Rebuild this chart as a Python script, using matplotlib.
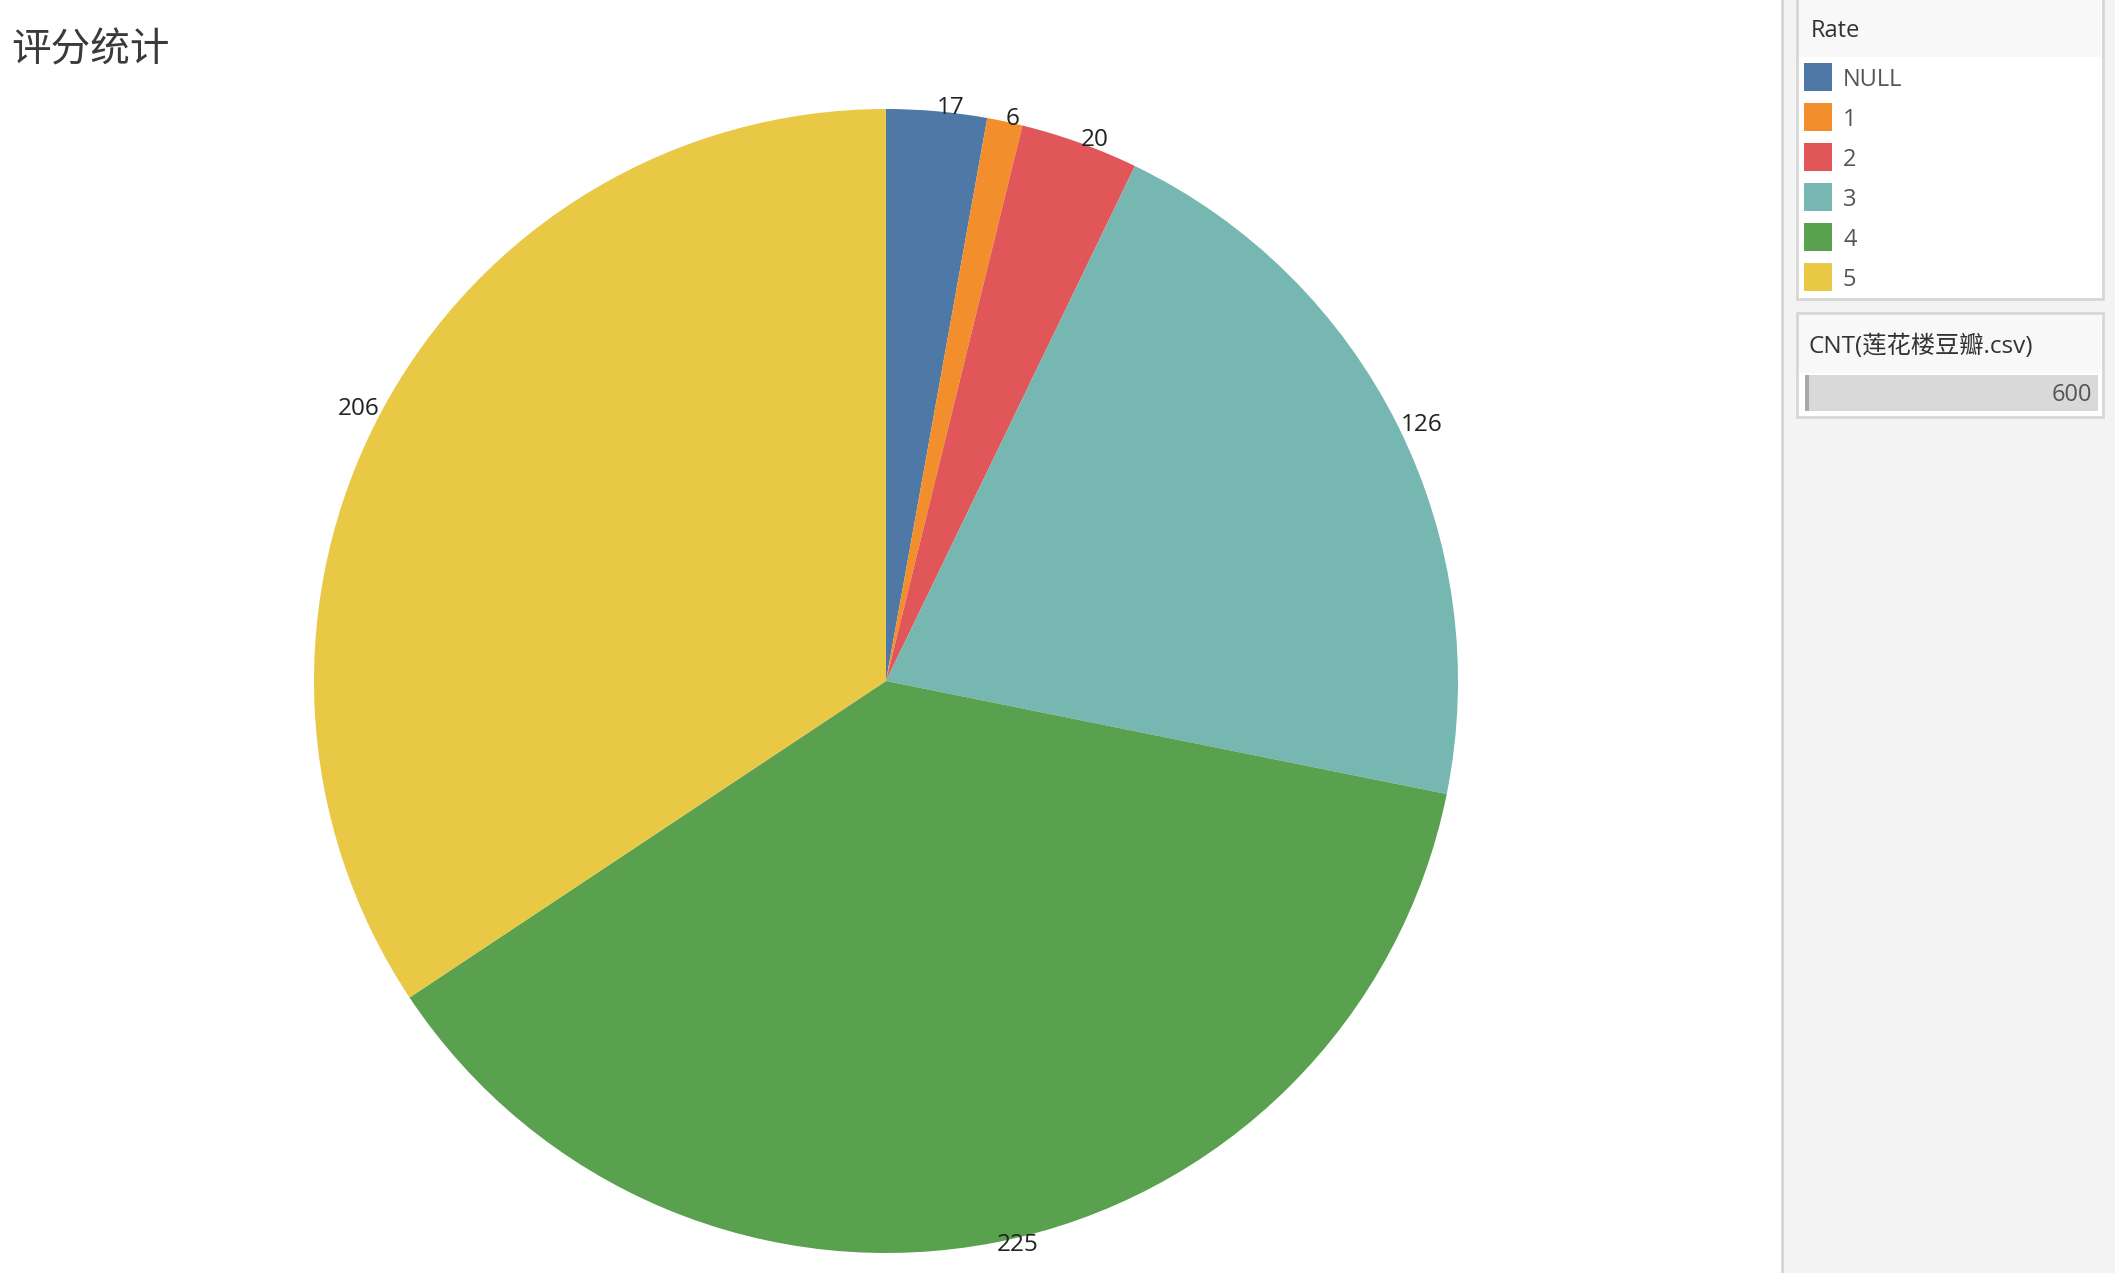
import matplotlib
matplotlib.use('Agg')
import matplotlib.pyplot as plt
from matplotlib.patches import Rectangle

plt.rcParams['font.family'] = ['Open Sans', 'Noto Sans CJK SC', 'DejaVu Sans']

# 数据: 评分分布
rates = ['NULL', '1', '2', '3', '4', '5']
counts = [17, 6, 20, 126, 225, 206]
colors = ['#4e79a7', '#f28e2b', '#e15759', '#76b7b2', '#59a14f', '#e9c846']
size_title = 'CNT(莲花楼豆瓣.csv)'

W, H = 2115, 1273
fig = plt.figure(figsize=(W / 100, H / 100), dpi=100)
fig.patch.set_facecolor('white')

def fx(px):
    return px / W

def fy(py):
    return 1 - py / H

# 饼图
cx, cy, r = 886, 681, 572
ax = fig.add_axes([fx(cx - r), fy(cy + r), 2 * r / W, 2 * r / H])
ax.pie(counts, colors=colors, labels=[str(c) for c in counts],
       startangle=90, counterclock=False, labeldistance=1.005,
       textprops={'fontsize': 17.5, 'color': '#222222'},
       wedgeprops={'linewidth': 0})
ax.set_xlim(-1, 1)
ax.set_ylim(-1, 1)
ax.set_aspect('equal')
ax.axis('off')

fig.text(fx(11), fy(50), '评分统计', fontsize=28.5, color='#3a3a3a',
         family=['Noto Sans CJK SC'], va='center', ha='left', fontweight='light')

# 右侧面板
fig.patches.append(Rectangle((fx(1782), 0), 1 - fx(1782), 1, transform=fig.transFigure,
                             facecolor='#f3f3f3', edgecolor='none', zorder=0))
fig.lines.append(plt.Line2D([fx(1782), fx(1782)], [0, 1], transform=fig.transFigure,
                            color='#d4d4d4', linewidth=2))

# 图例 Rate
bx0, bx1 = 1797, 2103
fig.patches.append(Rectangle((fx(bx0), fy(299)), fx(bx1 - bx0), 299 / H + 0.01,
                             transform=fig.transFigure, facecolor='white',
                             edgecolor='#d6d6d6', linewidth=2))
fig.patches.append(Rectangle((fx(bx0 + 2), fy(57)), fx(bx1 - bx0 - 4), 57 / H,
                             transform=fig.transFigure, facecolor='#f8f8f8',
                             edgecolor='none'))
fig.text(fx(1811), fy(31), 'Rate', fontsize=17, color='#333333', va='center')
for i, (name, col) in enumerate(zip(rates, colors)):
    yc = 77 + 40 * i
    fig.patches.append(Rectangle((fx(1804), fy(yc + 14)), fx(28), 28 / H,
                                 transform=fig.transFigure, facecolor=col,
                                 edgecolor='none'))
    fig.text(fx(1843), fy(yc + 3), name, fontsize=17, color='#555555', va='center')

# 尺寸图例
fig.patches.append(Rectangle((fx(bx0), fy(417)), fx(bx1 - bx0), (417 - 313) / H,
                             transform=fig.transFigure, facecolor='white',
                             edgecolor='#d6d6d6', linewidth=2))
fig.patches.append(Rectangle((fx(bx0 + 2), fy(373)), fx(bx1 - bx0 - 4), (373 - 315) / H,
                             transform=fig.transFigure, facecolor='#f8f8f8',
                             edgecolor='none'))
fig.text(fx(1809), fy(347), size_title, fontsize=17.5, color='#333333', va='center',
         family=['Open Sans', 'Noto Sans CJK SC'])
fig.patches.append(Rectangle((fx(1805), fy(411)), fx(2098 - 1805), 36 / H,
                             transform=fig.transFigure, facecolor='#d9d9d9',
                             edgecolor='none'))
fig.patches.append(Rectangle((fx(1805), fy(411)), fx(4), 36 / H,
                             transform=fig.transFigure, facecolor='#a8a8a8',
                             edgecolor='none'))
fig.text(fx(2092), fy(395), str(sum(counts)), fontsize=17, color='#555555',
         va='center', ha='right')

fig.savefig('out.png', dpi=100)
